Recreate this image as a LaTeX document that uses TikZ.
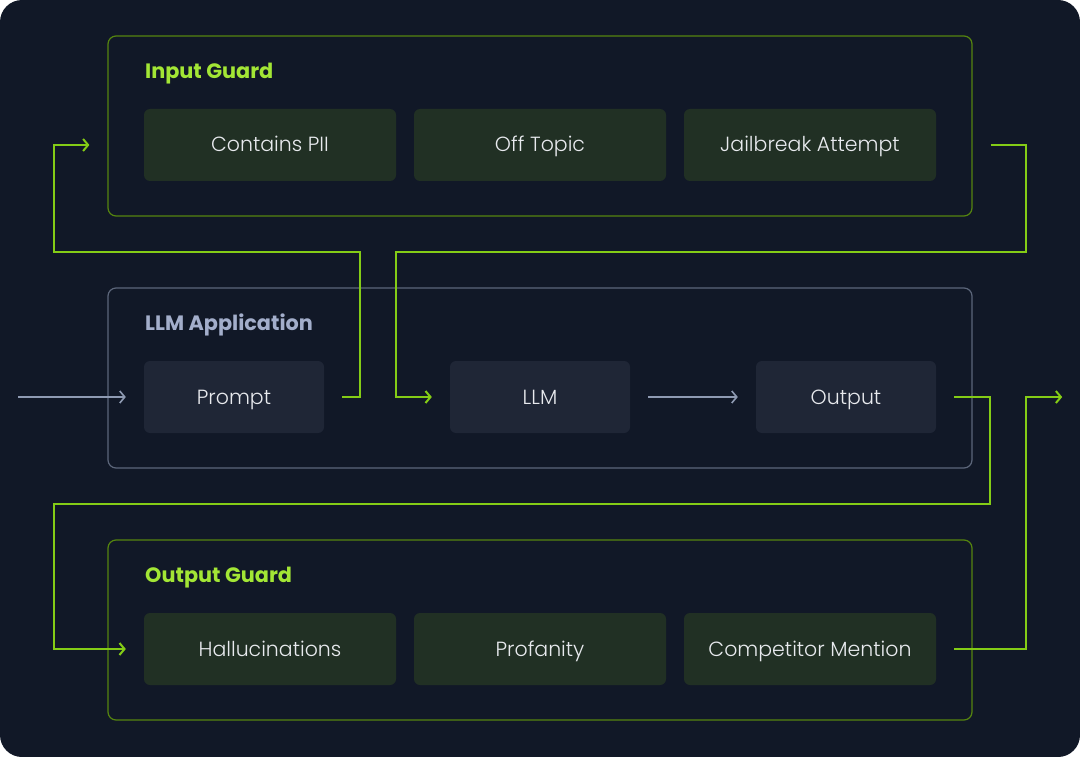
\documentclass[tikz,border=0pt]{standalone}
\usepackage{fontspec}
\setmainfont{Poppins}
\newfontfamily\celllight{Poppins Light}
\usetikzlibrary{arrows.meta,positioning}
\definecolor{bgnavy}{HTML}{111827}
\definecolor{limeline}{HTML}{84CC16}
\definecolor{limeframe}{HTML}{55850F}
\definecolor{limetitle}{HTML}{A3E635}
\definecolor{guardfill}{HTML}{213024}
\definecolor{appfill}{HTML}{1F2636}
\definecolor{appframe}{HTML}{5C667A}
\definecolor{apptitle}{HTML}{A3AECB}
\definecolor{grayline}{HTML}{8E9AB2}
\definecolor{celltext}{HTML}{E8EAEE}
\tikzset{
  guardframe/.style={draw=limeframe, line width=1.2pt, rounded corners=8pt, minimum width=864pt, minimum height=180pt},
  appframebox/.style={draw=appframe, line width=1.2pt, rounded corners=8pt, minimum width=864pt, minimum height=180pt},
  cellbase/.style={rounded corners=6pt, minimum height=72pt, text=celltext, text height=16pt, text depth=2pt, font=\celllight\fontsize{20.5}{24}\selectfont},
  guardcell/.style={cellbase, fill=guardfill, minimum width=252pt},
  appcell/.style={cellbase, fill=appfill, minimum width=180pt},
  boxtitle/.style={anchor=base west, inner sep=0pt, font=\bfseries\fontsize{20.8}{24}\selectfont},
  flowline/.style={draw=limeline, line width=2pt, -{Straight Barb[length=5pt,width=12pt]}},
  plainline/.style={draw=grayline, line width=1.6pt, -{Straight Barb[length=5pt,width=12pt]}}
}
\newcommand{\stepcell}[5]{\node[#1] (#2) at (#3,#4) {#5};}
\begin{document}
\begin{tikzpicture}[x=1pt,y=-1pt]
  % background
  \fill[white] (0,0) rectangle (1080,757);
  \fill[bgnavy, rounded corners=22pt] (0,0) rectangle (1080,757);

  % frames
  \node[guardframe] (inguard) at (540,126) {};
  \node[appframebox] (llmapp) at (540,378) {};
  \node[guardframe] (outguard) at (540,630) {};

  \node[boxtitle, text=limetitle] (intitle) at (145,78.5) {Input Guard};
  \node[boxtitle, text=apptitle] (apptitle) at (145,330.5) {LLM Application};
  \node[boxtitle, text=limetitle] (outtitle) at (145,582.5) {Output Guard};

  % input guard cells
  \stepcell{guardcell}{pii}{270}{145}{Contains PII}
  \stepcell{guardcell}{offtopic}{540}{145}{Off Topic}
  \stepcell{guardcell}{jailbreak}{810}{145}{Jailbreak Attempt}
  % application cells
  \stepcell{appcell}{prompt}{234}{397}{Prompt}
  \stepcell{appcell}{llm}{540}{397}{LLM}
  \stepcell{appcell}{output}{846}{397}{Output}
  % output guard cells
  \stepcell{guardcell}{halluc}{270}{649}{Hallucinations}
  \stepcell{guardcell}{profanity}{540}{649}{Profanity}
  \stepcell{guardcell}{competitor}{810}{649}{Competitor Mention}

  % rails
  \coordinate (entry) at (18,397);
  \coordinate (railtop) at (0,252);
  \coordinate (railbot) at (0,504);
  \coordinate (leftrail) at (54,0);
  \coordinate (rightrail) at (1026,0);

  % connectors
  \draw[plainline] (entry) -- ([xshift=-18pt]prompt.west);
  \draw[plainline] ([xshift=18pt]llm.east) -- ([xshift=-18pt]output.west);
  \draw[flowline] ([xshift=18pt]prompt.east) -- ([xshift=36pt]prompt.east)
    |- (railtop -| leftrail) |- ([xshift=-18pt]inguard.west |- pii.west);
  \draw[flowline] ([xshift=18pt]inguard.east |- jailbreak.east) -- (rightrail |- jailbreak.east)
    |- ([xshift=-54pt]llm.west |- railtop) |- ([xshift=-18pt]llm.west);
  \draw[flowline] ([xshift=18pt]output.east) -- ([xshift=54pt]output.east)
    |- (railbot -| leftrail) |- ([xshift=-18pt]halluc.west);
  \draw[flowline] ([xshift=18pt]competitor.east) -- (rightrail |- competitor.east)
    |- ([xshift=126pt]output.east);
\end{tikzpicture}
\end{document}
